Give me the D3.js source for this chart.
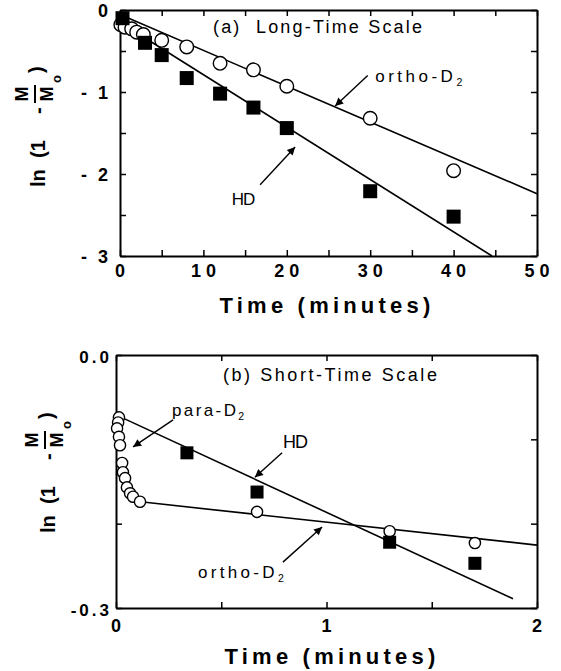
<!DOCTYPE html>
<html><head><meta charset="utf-8">
<script src="https://cdn.jsdelivr.net/npm/d3@7"></script>
<style>
body{margin:0;background:#fff;}
svg{display:block;font-family:"Liberation Sans",Arial,Helvetica,sans-serif;}
</style></head><body>
<svg id="c" width="561" height="671"></svg>
<script>
// ---------- Panel (a): Long-Time Scale ----------
const longHDTime   = [0.3, 3, 5, 8, 12, 16, 20, 30, 40];
const longHDValue  = [-0.10, -0.40, -0.55, -0.83, -1.02, -1.19, -1.44, -2.21, -2.52];
const longOrthoTime  = [0.1, 0.6, 1.4, 2.0, 2.8, 5, 8, 12, 16, 20, 30, 40];
const longOrthoValue = [-0.18, -0.21, -0.23, -0.27, -0.30, -0.37, -0.45, -0.65, -0.73, -0.93, -1.32, -1.96];
const longHDFit    = [[0, -0.15], [44.6, -3.0]];
const longOrthoFit = [[0, -0.056], [50, -2.24]];
const longXTicks = [0, 10, 20, 30, 40, 50];
const longYTicks = [0, -1, -2, -3];

// ---------- Panel (b): Short-Time Scale ----------
const shortCircleTime  = [0.014, 0.010, 0.005, 0.014, 0.019, 0.029, 0.033, 0.043, 0.052, 0.067, 0.081, 0.114, 0.67, 1.30, 1.705];
const shortCircleValue = [-0.074, -0.080, -0.087, -0.097, -0.107, -0.128, -0.139, -0.146, -0.157, -0.164, -0.168, -0.174, -0.186, -0.209, -0.223];
const shortHDTime  = [0.337, 0.67, 1.30, 1.705];
const shortHDValue = [-0.116, -0.1625, -0.222, -0.247];
const shortHDFit    = [[0, -0.071], [1.886, -0.289]];
const shortOrthoFit = [[0.128, -0.1744], [2, -0.2254]];
const shortXTicks = [0, 1, 2];
const shortYTicks = [0, -0.3];

const svg = d3.select("#c");
svg.append("defs").append("marker")
  .attr("id","ah").attr("viewBox","0 0 10 10").attr("refX",10).attr("refY",5)
  .attr("markerUnits","userSpaceOnUse").attr("markerWidth",11).attr("markerHeight",8)
  .attr("orient","auto")
  .append("path").attr("d","M0,0L10,5L0,10Z").attr("fill","#000");

function frame(g, x, y, xStep, yStep) {
  const [x0,x1] = x.range(), [y1,y0] = y.range();
  const xt = d3.range(x.domain()[0], x.domain()[1] + 1e-9, xStep);
  const yt = d3.range(y.domain()[0], y.domain()[1] + 1e-9, yStep);
  const axes = [
    [d3.axisBottom(x).tickValues(xt), `translate(0,${y1})`],
    [d3.axisTop(x).tickValues(xt), `translate(0,${y0})`],
    [d3.axisLeft(y).tickValues(yt), `translate(${x0},0)`],
    [d3.axisRight(y).tickValues(yt), `translate(${x1},0)`]
  ];
  axes.forEach(([ax, tr]) => {
    const a = g.append("g").attr("transform", tr)
      .call(ax.tickSizeInner(-6).tickSizeOuter(0).tickFormat(""));
    a.select(".domain").attr("stroke","#000").attr("stroke-width",2);
    a.selectAll(".tick line").attr("stroke","#000").attr("stroke-width",1.5);
  });
}

function fitLine(g, x, y, pts) {
  g.append("path").datum(pts)
    .attr("d", d3.line().x(d => x(d[0])).y(d => y(d[1])))
    .attr("fill","none").attr("stroke","#000").attr("stroke-width",1.6);
}
function circles(g, x, y, ts, vs, r) {
  g.selectAll(null).data(ts.map((t,i)=>[t,vs[i]])).join("circle")
    .attr("cx", d => x(d[0])).attr("cy", d => y(d[1])).attr("r", r)
    .attr("fill","#fff").attr("stroke","#000").attr("stroke-width",1.4);
}
function squares(g, x, y, ts, vs, s) {
  g.selectAll(null).data(ts.map((t,i)=>[t,vs[i]])).join("rect")
    .attr("x", d => x(d[0]) - s/2).attr("y", d => y(d[1]) - s/2)
    .attr("width", s).attr("height", s).attr("fill","#000");
}
function arrow(g, x, y, from, to) {
  g.append("line").attr("x1", x(from[0])).attr("y1", y(from[1]))
    .attr("x2", x(to[0])).attr("y2", y(to[1]))
    .attr("stroke","#000").attr("stroke-width",1.4).attr("marker-end","url(#ah)");
}
function label(g, x, y, pos, main, sub, size, ls, weight) {
  const t = g.append("text").attr("x", x(pos[0])).attr("y", y(pos[1]))
    .attr("font-size", size).attr("letter-spacing", ls).attr("font-weight", weight || "normal").text(main);
  if (sub) t.append("tspan").attr("font-size", size*0.62).attr("dy", 4).text(sub);
  return t;
}
function yTitle(g, tx, ty) {
  const q = g.append("g").attr("transform", `translate(${tx},${ty}) rotate(-90)`)
    .attr("font-weight","bold");
  q.append("text").attr("x",0).attr("y",0).attr("font-size",20).text("ln");
  q.append("text").attr("x",29).attr("y",0).attr("font-size",20).text("(1");
  q.append("text").attr("x",73).attr("y",0).attr("font-size",20).text("-");
  q.append("text").attr("x",93).attr("y",-17).attr("font-size",18).attr("text-anchor","middle").text("M");
  q.append("line").attr("x1",84).attr("x2",102).attr("y1",-10).attr("y2",-10).attr("stroke","#000").attr("stroke-width",2);
  q.append("text").attr("x",93).attr("y",8).attr("font-size",18).attr("text-anchor","middle").text("M");
  q.append("text").attr("x",104).attr("y",16).attr("font-size",13).text("o");
  q.append("text").attr("x",114).attr("y",-2).attr("font-size",20).text(")");
}
function xTitle(g, cx, by) {
  g.append("text").attr("x", cx + 2).attr("y", by).attr("text-anchor","middle")
    .attr("font-size",22).attr("font-weight","bold").attr("letter-spacing",4.2).text("Time (minutes)");
}

// ===== Panel (a) =====
const xA = d3.scaleLinear().domain([0,50]).range([120,537]);
const yA = d3.scaleLinear().domain([-3,0]).range([256,10]);
const gA = svg.append("g");
frame(gA, xA, yA, 5, 0.5);
fitLine(gA, xA, yA, longOrthoFit);
fitLine(gA, xA, yA, longHDFit);
circles(gA, xA, yA, longOrthoTime, longOrthoValue, 6.8);
squares(gA, xA, yA, longHDTime, longHDValue, 14);
gA.selectAll(null).data(longXTicks).join("text")
  .attr("x", d => xA(d)).attr("dx", 2.5).attr("y", 277).attr("text-anchor","middle")
  .attr("font-size",18).attr("font-weight","bold").attr("letter-spacing",5).text(d => String(d));
gA.selectAll(null).data(longYTicks).join("text")
  .attr("x", xA(0) - 12).attr("dx", 3).attr("y", d => yA(d) + 7).attr("text-anchor","end")
  .attr("font-size",18).attr("font-weight","bold").attr("letter-spacing",3)
  .text(d => d === 0 ? "0" : "- " + (-d));
gA.append("text").attr("x", xA(11.15)).attr("y", yA(-0.28)).attr("font-size",18)
  .attr("textLength",209).attr("lengthAdjust","spacing")
  .style("white-space","pre").text("(a)  Long-Time Scale");
label(gA, xA, yA, [30.6, -0.88], "ortho-D", "2", 17, 3.5);
arrow(gA, xA, yA, [29.7, -0.80], [25.8, -1.17]);
label(gA, xA, yA, [13.4, -2.38], "HD", null, 17, -1);
arrow(gA, xA, yA, [16.8, -2.13], [21.0, -1.67]);
yTitle(gA, 45, 187);
xTitle(gA, 325, 313);

// ===== Panel (b) =====
const xB = d3.scaleLinear().domain([0,2]).range([116,537]);
const yB = d3.scaleLinear().domain([-0.3,0]).range([608,355]);
const gB = svg.append("g");
frame(gB, xB, yB, 0.5, 0.1);
fitLine(gB, xB, yB, shortHDFit);
fitLine(gB, xB, yB, shortOrthoFit);
circles(gB, xB, yB, shortCircleTime, shortCircleValue, 5.6);
squares(gB, xB, yB, shortHDTime, shortHDValue, 13);
gB.selectAll(null).data(shortXTicks).join("text")
  .attr("x", d => xB(d)).attr("y", 632).attr("text-anchor","middle")
  .attr("font-size",18).attr("font-weight","bold").text(d => String(d));
gB.selectAll(null).data(shortYTicks).join("text")
  .attr("x", xB(0) - 7).attr("dx", 3).attr("y", d => yB(d) + 8).attr("text-anchor","end")
  .attr("font-size",17).attr("font-weight","bold").attr("letter-spacing",3)
  .text(d => d.toFixed(1));
gB.append("text").attr("x", xB(0.508)).attr("y", yB(-0.031)).attr("font-size",18)
  .attr("textLength",214).attr("lengthAdjust","spacing").text("(b) Short-Time Scale");
label(gB, xB, yB, [0.266, -0.072], "para-D", "2", 17, 2.4);
arrow(gB, xB, yB, [0.271, -0.077], [0.081, -0.109]);
label(gB, xB, yB, [0.793, -0.110], "HD", null, 18, -1);
arrow(gB, xB, yB, [0.789, -0.116], [0.660, -0.145]);
label(gB, xB, yB, [0.39, -0.265], "ortho-D", "2", 17, 3.3);
arrow(gB, xB, yB, [0.793, -0.2456], [0.979, -0.204]);
yTitle(gB, 55, 533);
xTitle(gB, 330, 664);
</script>
</body></html>
